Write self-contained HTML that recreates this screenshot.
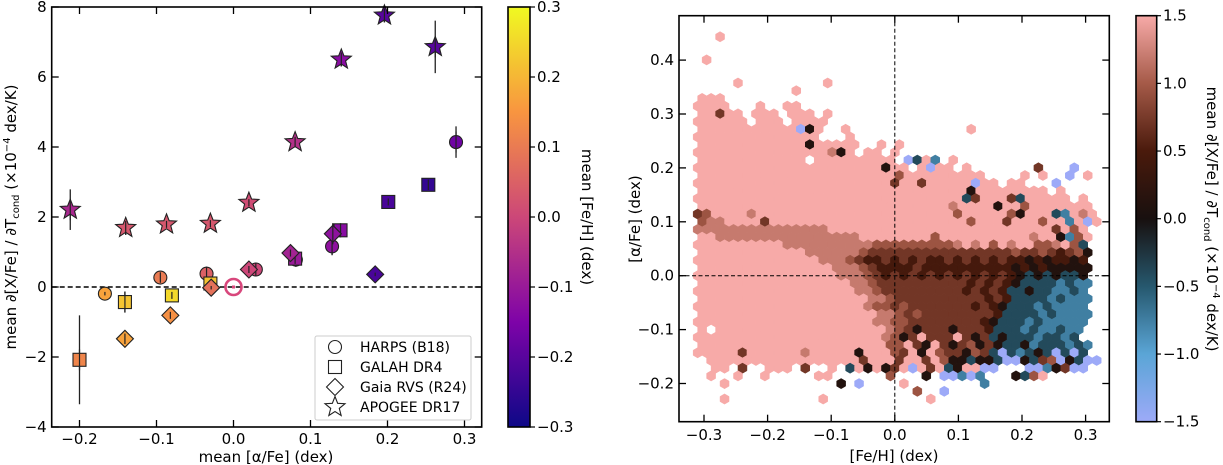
<!DOCTYPE html>
<html><head><meta charset="utf-8"><style>
body{margin:0;background:#fff}
svg{display:block;font-family:"DejaVu Sans","Liberation Sans",sans-serif}
</style></head><body>
<svg id="fig" width="1223" height="465" viewBox="0 0 1223 465" xmlns="http://www.w3.org/2000/svg">
<defs>
<linearGradient id="plasma" x1="0" y1="1" x2="0" y2="0">
<stop offset="0" stop-color="#0d0887"/><stop offset="0.25" stop-color="#7e03a8"/><stop offset="0.5" stop-color="#cc4778"/><stop offset="0.75" stop-color="#f89540"/><stop offset="1" stop-color="#f0f921"/>
</linearGradient>
<linearGradient id="berlin" x1="0" y1="1" x2="0" y2="0">
<stop offset="0" stop-color="#9daaf8"/><stop offset="0.1667" stop-color="#5aa5d6"/><stop offset="0.3333" stop-color="#26586e"/><stop offset="0.5" stop-color="#18100f"/><stop offset="0.6667" stop-color="#4a1a0c"/><stop offset="0.8333" stop-color="#a55a48"/><stop offset="1" stop-color="#f7aaa8"/>
</linearGradient>
</defs>
<g id="left"></g>
<g id="right"></g>
</svg>
<script>
// ---------- LEFT PANEL DATA ----------
const surveys = ["HARPS (B18)", "GALAH DR4", "Gaia RVS (R24)", "APOGEE DR17"];
const harpsAlpha = [-0.167, -0.095, -0.035, 0.029, 0.081, 0.128, 0.289];
const harpsSlope = [-0.19, 0.27, 0.38, 0.50, 0.78, 1.16, 4.14];
const harpsErr   = [0.05, 0.15, 0.2, 0.2, 0.2, 0.25, 0.45];
const harpsFeH   = [0.17, 0.10, 0.05, 0.0, -0.10, -0.12, -0.17];
const galahAlpha = [-0.200, -0.141, -0.080, -0.030, 0.080, 0.139, 0.201, 0.253];
const galahSlope = [-2.08, -0.43, -0.24, 0.10, 0.81, 1.62, 2.43, 2.92];
const galahErr   = [1.27, 0.3, 0.1, 0.1, 0.15, 0.2, 0.1, 0.15];
const galahFeH   = [0.12, 0.22, 0.25, 0.22, -0.10, -0.13, -0.22, -0.25];
const gaiaAlpha  = [-0.141, -0.082, -0.029, 0.020, 0.074, 0.129, 0.184];
const gaiaSlope  = [-1.48, -0.81, -0.02, 0.50, 0.97, 1.52, 0.36];
const gaiaErr    = [0.15, 0.1, 0.05, 0.1, 0.1, 0.3, 0.05];
const gaiaFeH    = [0.17, 0.14, 0.08, 0.0, -0.08, -0.12, -0.22];
const apoAlpha   = [-0.212, -0.140, -0.087, -0.030, 0.020, 0.080, 0.140, 0.196, 0.262];
const apoSlope   = [2.21, 1.69, 1.79, 1.81, 2.41, 4.14, 6.50, 7.76, 6.86];
const apoErr     = [0.58, 0.2, 0.1, 0.1, 0.1, 0.15, 0.2, 0.2, 0.75];
const apoFeH     = [-0.07, 0.03, 0.03, 0.03, 0.01, -0.05, -0.13, -0.20, -0.20];
const leftXTicks = [-0.2, -0.1, 0.0, 0.1, 0.2, 0.3];
const leftYTicks = [-4, -2, 0, 2, 4, 6, 8];
const fehTicks   = [-0.3, -0.2, -0.1, 0.0, 0.1, 0.2, 0.3];

// ---------- RIGHT PANEL DATA ----------
const hexRows = [
[31,"..P"],[28,".P"],[25,"....P.........P"],[24,"...........P"],[23,"PPP"],
[22,"PPPP...P..PP"],[21,"PPcPP.PPP.PPP.P"],[20,"PPPPPP.PPP.PPPP"],
[19,"PPPPPPPPPPPLkP..P.............P"],[18,"PPPPPPPPPPPPPP...P"],
[17,"PPPPPPPPPPPPkPPPPP..P.P"],[16,"PPPPPPPPPPPPPPPakP.PP.P"],
[15,"PPPPPPPPPPPP.PPPPPPPPP.LePf.P"],[14,"PPPPPPPPPPPPPPPPPPPPPkPP.PLPP.P.......c...L"],
[13,"PPPPPPPPPPPPPPPPPPPPPPbPPPPPPPPP....P.P..L.P"],[12,"PPPPPPPPPPPPPPPPPPPPPPcPPcPPPPPLPP.PP...L..."],
[11,"PPPPPPPPPPPPPPPPPPPPPPPPPPPPPPkPPPPPPPP.P.."],[10,"PPPPPPPPPPPPPPPPPPPPPPPPPPPPPPecPPPcePPPPP.P"],
[9,"PPPPPPPPPPPPPPPPPPPPPPPPPPPPaPPPPkPPbPPPPPPP"],[8,"cbPPPPaPPPPPPPPPPPPPPPPPPPPPPbPPPPPbkPPPefPaP"],
[7,"baaPPPPcPPPPPPPPPPPPPPPPPPPPPPbPPPcPPPbPPfPLP"],[6,"aaaaaaaaaaaaaaaPPPPPPPPPPPPPPPPPPPPPPPPPcPbP"],
[5,"PPaaaaaaaaaaaaaaaaPPPPPPPPbPPPPPPPPPPaPPkfbP"],[4,"PPPPPPPPPPaaaaaaaaaabbbbbbbbbaPaPbPaPPbbaPbe"],
[3,"PPPPPPPPPPPPaaaaaabccccccccccccccccbccbcdcbk"],[2,"PPPPPPPPPPPPPPaaabcddcdcdcddcdcdcdcddkdkddkd"],
[1,"PPPPPPPPPPPPPPPaaabcddddcddddddddddkdkdkkkkk"],[0,"PPPPPPPPPPPPPPPPaaabcdcdcdcdcdcdcdcdkekekeek"],
[-1,"PPPPPPPPPPPPPPPPPaabccccccccccdcdcdkeeeefeff"],[-2,"PPPPPPPPPPPPPPPPPPaabcccccccccdcdcdeekeeffef"],
[-3,"PPPPPPPPPPPPPPPPPPPaabccccccccccdcdeeeefefff"],[-4,"PPPPPPPPPPPPPPPPPPPabbcbcccccccdcdkeeefeffff"],
[-5,"PPPPPPPPPPPPPPPPPPPPaabcbccccccccdeeeefeffff"],[-6,"PPPPPPPPPPPPPPPPPPPPaabbccccccccdkeeefefffff"],
[-7,"P.PPPPPPPPPPPPPPPPPPPabckccckcccdeeefeffeff"],[-8,"PPPPPPPPPPPPPPPPPPPPPabkcPcccPckcekeeefeefe"],
[-9,"PPPPPPPPPPPPPPPPPPPPPbbPckPckcbkckeekfeeefef"],[-10,"PPPPPcPPPPPPaPPPPPkPPPbcPkPbcckbceLefekeLeLe"],
[-11,".PPPPPPPPPPPPPPPPPcPPPcPPcPbkkekkeLLkecbLkeLL"],[-12,"..PP.c..PPP.c..P.ePkPkcPLPcPekPPLL...LLfkcLL"],
[-13,".P..P..P.....PP......b...k.LLfLf...kebP"],[-14,"...P............k.L....P........f"],
[-15,"........................b..L"],[-16,"...P..........P...........P"]
];
const codeValues = {P:1.5,a:1.2,b:0.95,c:0.72,d:0.45,k:0.1,e:-0.4,f:-0.75,g:-1.0,L:-1.5};
const rightXTicks = [-0.3,-0.2,-0.1,0.0,0.1,0.2,0.3];
const rightYTicks = [-0.2,-0.1,0.0,0.1,0.2,0.3,0.4];
const cbTicks = [-1.5,-1.0,-0.5,0.0,0.5,1.0,1.5];

const NS="http://www.w3.org/2000/svg";
function mk(parent,tag,attrs,text){const e=document.createElementNS(NS,tag);for(const k in attrs)e.setAttribute(k,attrs[k]);if(text!==undefined)e.textContent=text;parent.appendChild(e);return e;}
function fmt(v,d){const s=v.toFixed(d);return (v<0?"\u2212"+s.slice(1):(Math.abs(v)<1e-9?(0).toFixed(d):s));}
function hex2rgb(h){return [parseInt(h.slice(1,3),16),parseInt(h.slice(3,5),16),parseInt(h.slice(5,7),16)];}
function interp(stops,t){t=Math.max(0,Math.min(1,t));for(let i=0;i<stops.length-1;i++){const[a,ca]=stops[i],[b,cb]=stops[i+1];if(t<=b){const u=(t-a)/(b-a);const A=hex2rgb(ca),B=hex2rgb(cb);return "rgb("+A.map((x,j)=>Math.round(x+(B[j]-x)*u)).join(",")+")";}}return stops[stops.length-1][1];}
const plasmaStops=[[0,"#0d0887"],[0.25,"#7e03a8"],[0.5,"#cc4778"],[0.75,"#f89540"],[1,"#f0f921"]];
const berlinStops=[[0,"#9daaf8"],[0.1667,"#5aa5d6"],[0.3333,"#26586e"],[0.5,"#18100f"],[0.6667,"#4a1a0c"],[0.8333,"#a55a48"],[1,"#f7aaa8"]];
const TF=15, LF=15;

// ================= LEFT =================
const L=document.getElementById('left');
const lx=a=>233.5+a*770, ly=v=>287-v*35;
const LX0=51.7,LX1=481.7,LY0=7,LY1=427;
const zl=mk(L,'line',{x1:LX0,x2:LX1,y1:ly(0),y2:ly(0),stroke:'#000','stroke-width':1.5,'stroke-dasharray':'5,3'});


function errbar(a,v,e){const l=mk(L,'line',{x1:lx(a),x2:lx(a),y1:ly(v-e),y2:ly(v+e),stroke:'#222','stroke-width':1.3});

}
function starPts(cx,cy,R,r){let p=[];for(let i=0;i<10;i++){const ang=-Math.PI/2+i*Math.PI/5;const rr=i%2?r:R;p.push((cx+rr*Math.cos(ang)).toFixed(2)+","+(cy+rr*Math.sin(ang)).toFixed(2));}return p.join(" ");}
function marker(parent,shape,cx,cy,fill,name){let e;
 if(shape===0)e=mk(parent,'circle',{cx:cx,cy:cy,r:6.5});
 else if(shape===1)e=mk(parent,'rect',{x:cx-6.5,y:cy-6.5,width:13,height:13});
 else if(shape===2)e=mk(parent,'polygon',{points:`${cx},${cy-8.5} ${cx+8.5},${cy} ${cx},${cy+8.5} ${cx-8.5},${cy}`});
 else e=mk(parent,'polygon',{points:starPts(cx,cy,10.5,4.5)});
 e.setAttribute('fill',fill);e.setAttribute('stroke','#222');e.setAttribute('stroke-width',1.1);
 
 
 return e;}
const fehColor=f=>interp(plasmaStops,(f+0.3)/0.6);
const sets=[[harpsAlpha,harpsSlope,harpsErr,harpsFeH,0,'harps-point'],[galahAlpha,galahSlope,galahErr,galahFeH,1,'galah-point'],[gaiaAlpha,gaiaSlope,gaiaErr,gaiaFeH,2,'gaia-point'],[apoAlpha,apoSlope,apoErr,apoFeH,3,'apogee-point']];
sets.forEach(([A,S,E])=>{A.forEach((a,i)=>{errbar(a,S[i],E[i]);});});
sets.forEach(([A,S,E,F,sh,nm])=>{A.forEach((a,i)=>{marker(L,sh,lx(a),ly(S[i]),fehColor(F[i]),nm);
 const d=mk(L,'line',{x1:lx(a),x2:lx(a),y1:ly(S[i]+Math.min(E[i],0.3)),y2:ly(S[i]-Math.min(E[i],0.3)),stroke:'#222','stroke-width':1.2});
 
 });});
const sun=mk(L,'circle',{cx:lx(0),cy:ly(0),r:8,fill:'none',stroke:'#d8477c','stroke-width':2.6});


const sund=mk(L,'rect',{x:lx(0)-1.5,y:ly(0)-1.5,width:3,height:3,fill:'#d8477c'});


const lf=mk(L,'rect',{x:LX0,y:LY0,width:LX1-LX0,height:LY1-LY0,fill:'none',stroke:'#000','stroke-width':1.6});


leftXTicks.forEach(t=>{const x=lx(t);
 mk(L,'line',{x1:x,x2:x,y1:LY1,y2:LY1-7,stroke:'#000','stroke-width':1.3});
 mk(L,'line',{x1:x,x2:x,y1:LY0,y2:LY0+7,stroke:'#000','stroke-width':1.3});
 const tx=mk(L,'text',{x:x,y:444,'font-size':TF,'text-anchor':'middle'},fmt(t,1));
 
 });
leftYTicks.forEach(t=>{const y=ly(t);
 mk(L,'line',{x1:LX0,x2:LX0+7,y1:y,y2:y,stroke:'#000','stroke-width':1.3});
 mk(L,'line',{x1:LX1,x2:LX1-7,y1:y,y2:y,stroke:'#000','stroke-width':1.3});
 const tx=mk(L,'text',{x:LX0-5,y:y+5,'font-size':TF,'text-anchor':'end'},fmt(t,0));
 
 });
const lg=mk(L,'g',{});


mk(lg,'rect',{x:315,y:336,width:156,height:84,fill:'#fff',stroke:'#ccc','stroke-width':1,rx:2});
surveys.forEach((s,i)=>{const y=347+i*20;
 marker(lg,i,335,y,'#fff','legend-marker');
 const t=mk(lg,'text',{x:360,y:y+5,'font-size':14},s);
 
 });
const cb1=mk(L,'rect',{x:508,y:LY0,width:22,height:LY1-LY0,fill:'url(#plasma)',stroke:'#000','stroke-width':1.6});


fehTicks.forEach(t=>{const y=LY1-(t+0.3)/0.6*(LY1-LY0);
 mk(L,'line',{x1:530,x2:535,y1:y,y2:y,stroke:'#000','stroke-width':1.2});
 const tx=mk(L,'text',{x:537,y:y+5,'font-size':TF},fmt(t,1));
 
 });
let t1=mk(L,'text',{x:0,y:0,'font-size':LF,'text-anchor':'middle',transform:'translate(582,217) rotate(90)'},'mean [Fe/H] (dex)');


let t2=mk(L,'text',{x:266,y:462,'font-size':LF,'text-anchor':'middle'},'mean [α/Fe] (dex)');


let t3=mk(L,'text',{x:0,y:0,'font-size':LF,'text-anchor':'middle',transform:'translate(16,217) rotate(-90)'});


t3.innerHTML='mean ∂[X/Fe] / ∂T<tspan font-size="10" dy="3">cond</tspan><tspan dy="-3"> (×10</tspan><tspan font-size="10" dy="-6">−4</tspan><tspan dy="6"> dex/K)</tspan>';

// ================= RIGHT =================
const R=document.getElementById('right');
const rx=v=>894.8+v*636, ry=v=>275.7-v*539;
const RX0=679,RX1=1109.3,RY0=15.7,RY1=421.7;
const dxHex=0.0141, dyHex=0.0143, x0Hex=-0.31;
const hw=dxHex*636/2;
const hh=dyHex*539*4/3;
const hg=mk(R,'g',{});


hexRows.forEach(([k,s])=>{for(let i=0;i<s.length;i++){const c=s[i];if(c==='.')continue;
 const v=codeValues[c];const xv=x0Hex+i*dxHex+(Math.abs(k)%2?dxHex/2:0);const yv=k*dyHex;
 const cx=rx(xv),cy=ry(yv);const col=interp(berlinStops,(v+1.5)/3);
 const pts=[[0,-hh/2],[hw,-hh/4],[hw,hh/4],[0,hh/2],[-hw,hh/4],[-hw,-hh/4]].map(p=>(cx+p[0]).toFixed(2)+","+(cy+p[1]).toFixed(2)).join(" ");
 const h=mk(hg,'polygon',{points:pts,fill:col,stroke:col,'stroke-width':0.5});
 
 }});
const vl=mk(R,'line',{x1:rx(0),x2:rx(0),y1:RY0,y2:RY1,stroke:'#000','stroke-width':1,'stroke-dasharray':'4,2.5'});


const hl=mk(R,'line',{x1:RX0,x2:RX1,y1:ry(0),y2:ry(0),stroke:'#000','stroke-width':1,'stroke-dasharray':'4,2.5'});


const rf=mk(R,'rect',{x:RX0,y:RY0,width:RX1-RX0,height:RY1-RY0,fill:'none',stroke:'#000','stroke-width':1.6});


rightXTicks.forEach(t=>{const x=rx(t);
 mk(R,'line',{x1:x,x2:x,y1:RY1,y2:RY1-7,stroke:'#000','stroke-width':1.3});
 mk(R,'line',{x1:x,x2:x,y1:RY0,y2:RY0+7,stroke:'#000','stroke-width':1.3});
 const tx=mk(R,'text',{x:x,y:440,'font-size':TF,'text-anchor':'middle'},fmt(t,1));
 
 });
rightYTicks.forEach(t=>{const y=ry(t);
 mk(R,'line',{x1:RX0,x2:RX0+7,y1:y,y2:y,stroke:'#000','stroke-width':1.3});
 mk(R,'line',{x1:RX1,x2:RX1-7,y1:y,y2:y,stroke:'#000','stroke-width':1.3});
 const tx=mk(R,'text',{x:RX0-5,y:y+5,'font-size':TF,'text-anchor':'end'},fmt(t,1));
 
 });
const cb2=mk(R,'rect',{x:1136,y:RY0,width:20.7,height:RY1-RY0,fill:'url(#berlin)',stroke:'#000','stroke-width':1.6});


cbTicks.forEach(t=>{const y=RY1-(t+1.5)/3*(RY1-RY0);
 mk(R,'line',{x1:1156.7,x2:1161,y1:y,y2:y,stroke:'#000','stroke-width':1.2});
 const tx=mk(R,'text',{x:1163,y:y+5,'font-size':TF},fmt(t,1));
 
 });
let r1=mk(R,'text',{x:894,y:461,'font-size':LF,'text-anchor':'middle'},'[Fe/H] (dex)');


let r2=mk(R,'text',{x:0,y:0,'font-size':LF,'text-anchor':'middle',transform:'translate(640,219) rotate(-90)'},'[α/Fe] (dex)');


let r3=mk(R,'text',{x:0,y:0,'font-size':LF,'text-anchor':'middle',transform:'translate(1207,219) rotate(90)'});


r3.innerHTML='mean ∂[X/Fe] / ∂T<tspan font-size="10" dy="3">cond</tspan><tspan dy="-3"> (×10</tspan><tspan font-size="10" dy="-6">−4</tspan><tspan dy="6"> dex/K)</tspan>';
</script>
</body></html>
